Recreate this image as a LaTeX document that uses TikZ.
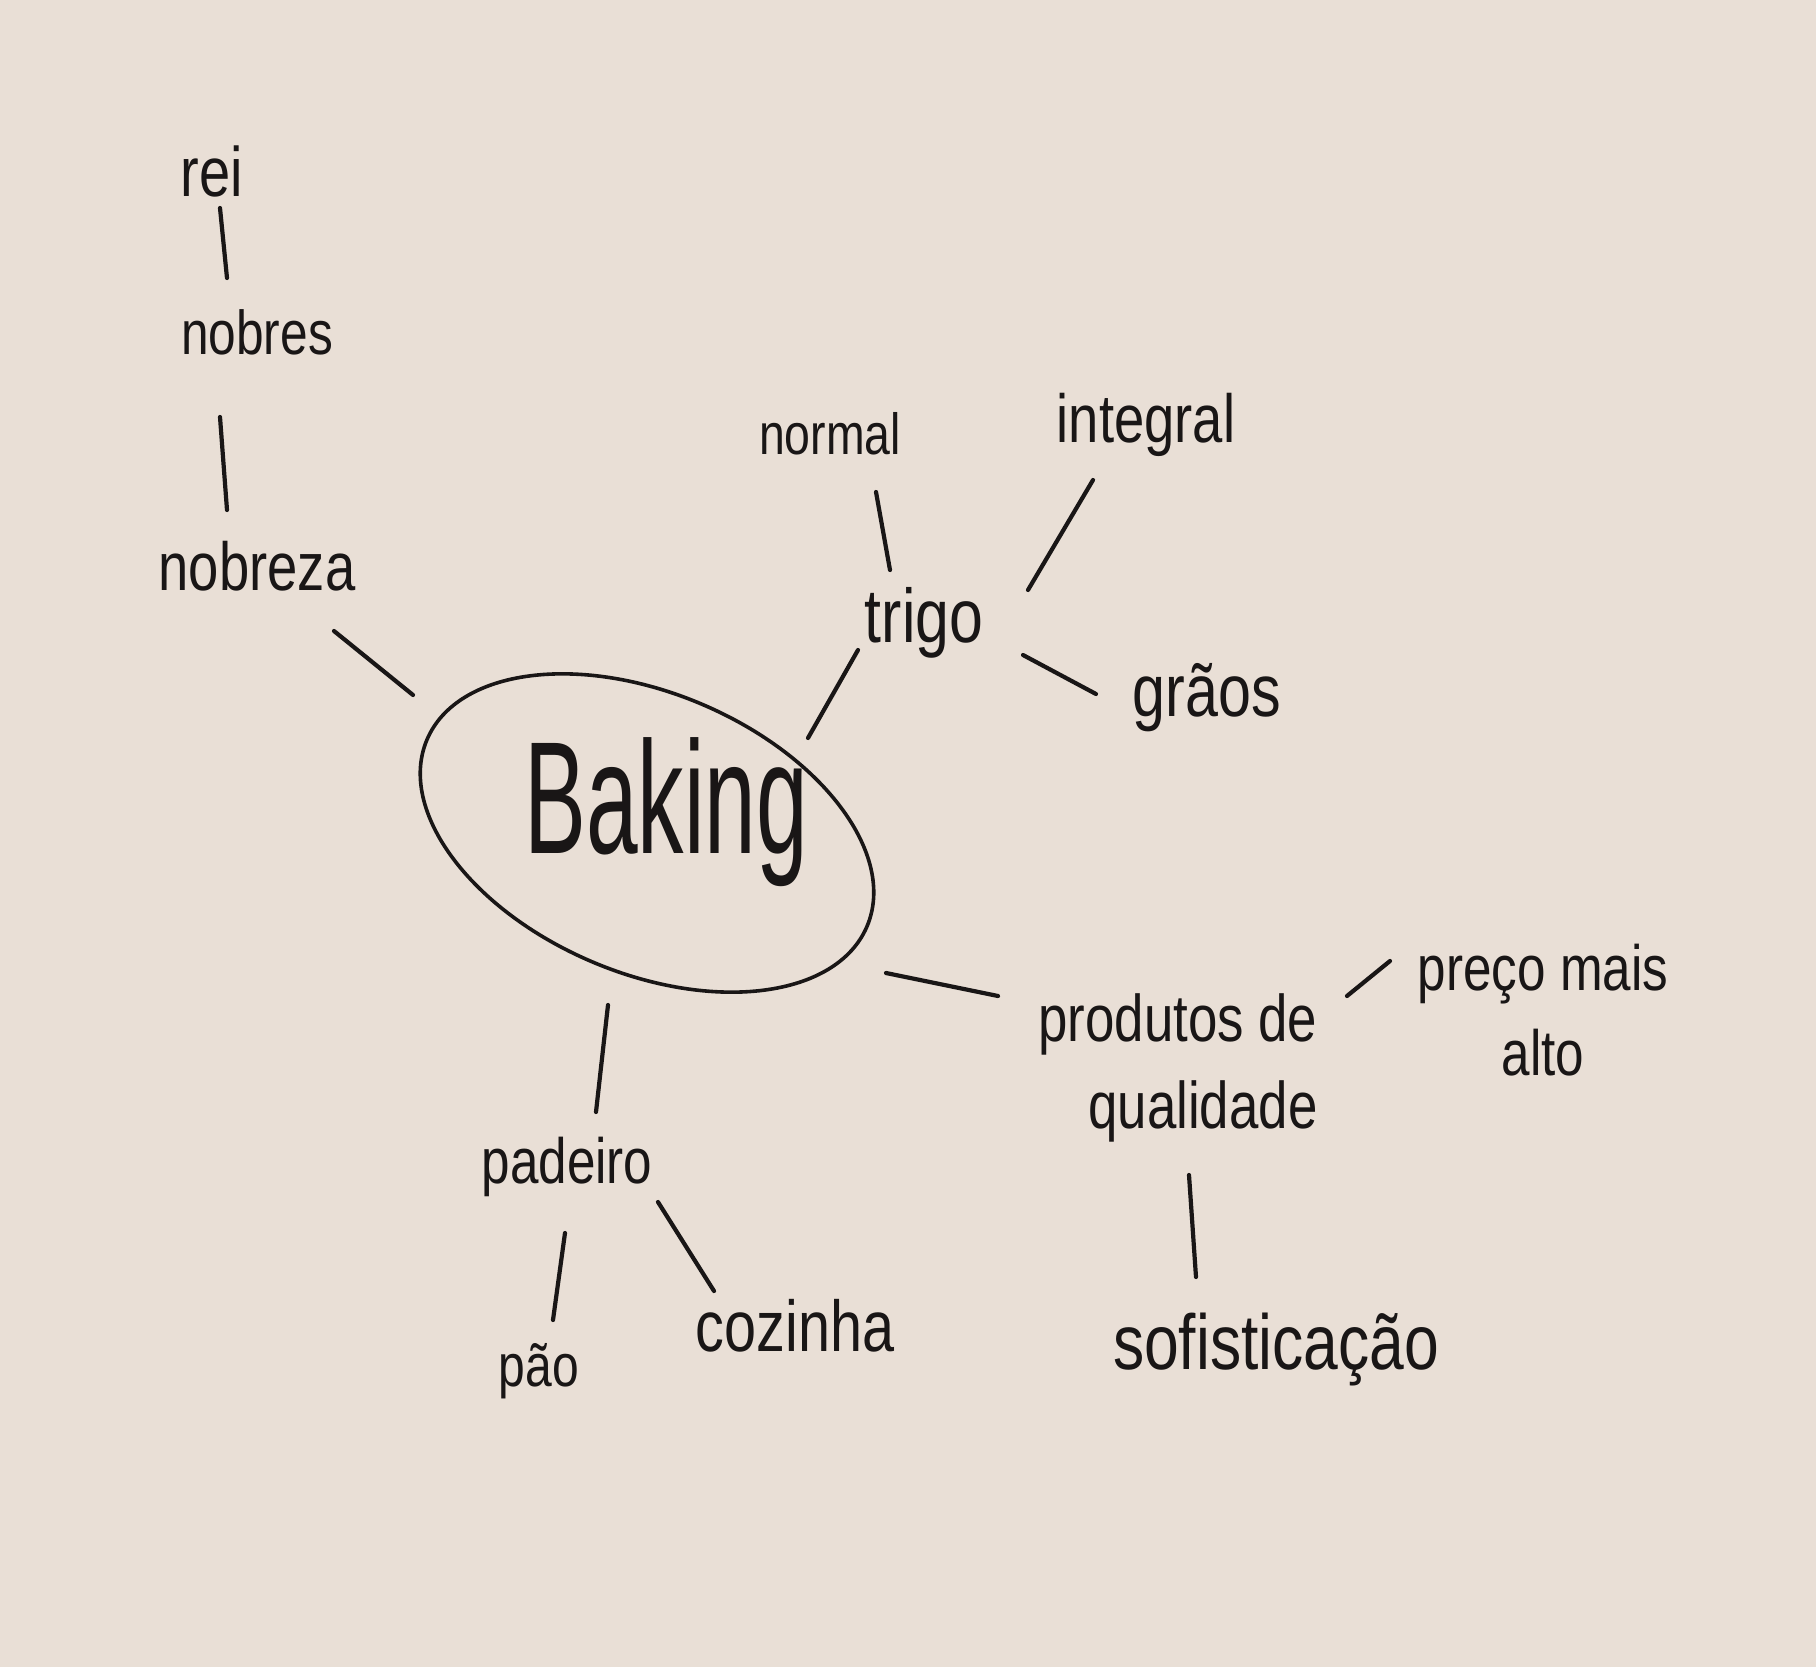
\documentclass[tikz,border=0pt]{standalone}
\usepackage{fontspec}
\newfontfamily\handfont[FakeStretch=0.8]{Liberation Sans}
\newfontfamily\bakefont[FakeStretch=0.58]{Liberation Sans}
\usetikzlibrary{shapes.geometric}
\definecolor{paper}{RGB}{233,223,214}
\definecolor{ink}{RGB}{25,22,22}
\begin{document}
\begin{tikzpicture}[x=1pt,y=-1pt,
  word/.style={anchor=mid, inner sep=0pt, text=ink, font=\handfont\fontsize{#1pt}{#1pt}\selectfont},
  twoline/.style={anchor=center, inner sep=0pt, text=ink, font=\handfont\fontsize{#1pt}{1.32\dimexpr #1pt\relax}\selectfont},
  link/.style={draw=ink, line width=4.2pt, line cap=round},
  ring/.style={draw=ink, line width=3.6pt, ellipse, inner sep=0pt, outer sep=0pt}]
\fill[paper] (0,0) rectangle (1816,1667);
\useasboundingbox (0,0) rectangle (1816,1667);

% centre
\node[ring, minimum width=478pt, minimum height=280pt, rotate=-23] (ring) at (647,833) {};
\node[anchor=base, inner sep=0pt, text=ink, font=\bakefont\fontsize{160pt}{160pt}\selectfont] (baking) at (666,853) {Baking};

% left branch
\node[word=70] (rei) at (212,194) {rei};
\node[word=62] (nobres) at (257,352) {nobres};
\node[word=68] (nobreza) at (257,588) {nobreza};

% trigo branch
\node[word=76] (trigo) at (924,640) {trigo};
\node[word=58] (normal) at (830,452) {normal};
\node[word=68] (integral) at (1146,440) {integral};
\node[word=74] (graos) at (1207,714) {grãos};

% produtos branch
\node[twoline=66, align=right] (prod) at (1178,1068) {produtos de\\qualidade};
\node[twoline=64, align=center] (preco) at (1543,1010) {preço mais\\alto};
\node[word=78] (sofis) at (1276,1367) {sofisticação};

% padeiro branch
\node[word=64] (padeiro) at (567,1181) {padeiro};
\node[word=60] (pao) at (539,1384) {pão};
\node[word=72] (cozinha) at (795,1349) {cozinha};

% connectors
\draw[link] ([shift={(8,14)}]rei.mid) -- ([shift={(-30,-74)}]nobres.mid);
\draw[link] ([shift={(-37,65)}]nobres.mid) -- ([shift={(-30,-78)}]nobreza.mid);
\draw[link] ([shift={(77,43)}]nobreza.mid) -- ([shift={(-234,-138)}]ring.center);
\draw[link] ([shift={(161,-95)}]ring.center) -- ([shift={(-66,10)}]trigo.mid);
\draw[link] ([shift={(46,40)}]normal.mid) -- ([shift={(-34,-70)}]trigo.mid);
\draw[link] ([shift={(104,-50)}]trigo.mid) -- ([shift={(-53,40)}]integral.mid);
\draw[link] ([shift={(99,15)}]trigo.mid) -- ([shift={(-111,-20)}]graos.mid);
\draw[link] ([shift={(239,140)}]ring.center) -- ([shift={(-180,-72)}]prod.center);
\draw[link] ([shift={(169,-72)}]prod.center) -- ([shift={(-153,-49)}]preco.center);
\draw[link] ([shift={(11,107)}]prod.center) -- ([shift={(-80,-90)}]sofis.mid);
\draw[link] ([shift={(-39,172)}]ring.center) -- ([shift={(29,-69)}]padeiro.mid);
\draw[link] ([shift={(-2,52)}]padeiro.mid) -- ([shift={(14,-64)}]pao.mid);
\draw[link] ([shift={(91,21)}]padeiro.mid) -- ([shift={(-81,-58)}]cozinha.mid);
\end{tikzpicture}
\end{document}
